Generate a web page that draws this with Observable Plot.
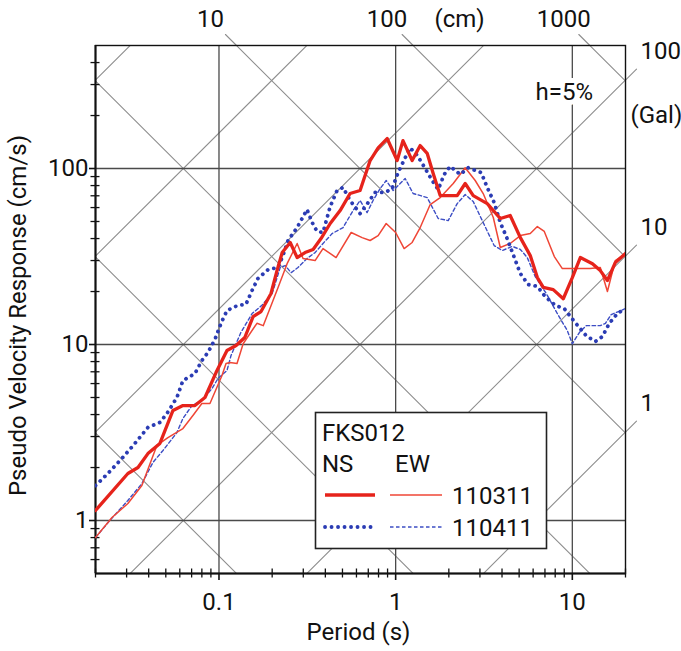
<!DOCTYPE html>
<html><head><meta charset="utf-8">
<script src="https://cdn.jsdelivr.net/npm/d3@7"></script>
<script src="https://cdn.jsdelivr.net/npm/@observablehq/plot@0.6"></script>
<style>body{margin:0;background:#fff}#chart{width:681px;height:651px}</style>
</head><body><div id="chart"></div>
<script>
// ---- data: periods (s) and pseudo velocity response (cm/s) ----
const periodsNS0311 = [0.02,0.0305,0.0348,0.0396,0.0463,0.0549,0.0625,0.0731,0.0833,0.0962,0.111,0.125,0.140,0.156,0.173,0.197,0.213,0.228,0.253,0.277,0.307,0.341,0.378,0.426,0.485,0.552,0.629,0.717,0.796,0.895,1.02,1.10,1.24,1.377,1.508,1.631,1.787,2.23,2.476,2.749,3.30,3.91,4.45,5.08,5.78,6.34,6.85,7.80,8.89,10.0,11.1,13.0,14.4,15.8,17.5,20];
const valuesNS0311 = [1.14,1.85,2.0,2.40,2.74,4.22,4.50,4.50,5.0,6.93,9.24,9.87,10.96,14.4,15.4,19.5,26.3,33.3,38.0,31.2,33.3,34.7,40.0,48.7,57.7,72.1,75.0,111,131,148,111,144,111,135,122,93.7,70.2,70.2,82.2,70.2,63.2,52.0,54.1,40.5,32.0,24.0,21.1,20.5,18.2,24.0,31.2,28.8,26.3,23.1,29.2,32.9];

const periodsEW0311 = [0.02,0.0248,0.0305,0.0366,0.0445,0.0514,0.0625,0.0712,0.080,0.0889,0.104,0.1096,0.1154,0.1265,0.137,0.164,0.178,0.216,0.243,0.277,0.299,0.350,0.388,0.460,0.560,0.646,0.717,0.796,0.884,1.0,1.117,1.24,1.377,1.569,1.787,2.118,2.476,2.82,3.13,3.57,3.91,4.45,5.08,5.78,6.34,6.94,7.91,8.78,10.1,12.6,14.4,15.8,17.5,20];
const valuesEW0311 = [0.80,1.04,1.25,1.58,2.67,2.96,3.33,3.95,4.62,4.62,6.67,7.80,7.90,7.80,10.1,13.2,12.8,21.1,28.8,37.5,30.8,30.0,35.1,31.2,43.3,40.5,39.0,41.6,48.7,43.3,35.1,38.0,46.2,62.4,68.4,82.2,101,85.5,72.1,52.7,35.6,37.5,41.6,42.7,46.8,43.9,31.6,27.0,27.0,27.0,27.4,20.0,30.0,32.9];

const periodsNS0411 = [0.02,0.0235,0.0282,0.0334,0.0396,0.0463,0.0508,0.0578,0.0625,0.0731,0.080,0.0866,0.0949,0.103,0.111,0.128,0.142,0.154,0.166,0.190,0.216,0.230,0.246,0.277,0.315,0.337,0.359,0.388,0.426,0.466,0.504,0.552,0.629,0.699,0.765,0.872,0.955,1.033,1.132,1.208,1.324,1.47,1.61,1.741,1.883,2.036,2.32,2.575,3.05,3.30,3.61,3.91,4.23,4.63,5.08,5.63,6.34,7.03,8.01,9.01,9.87,10.8,12.0,13.5,14.8,16.2,18.0,20];
const valuesNS0411 = [1.58,1.85,2.25,2.74,3.38,3.61,4.06,5.0,6.24,6.84,8.11,9.01,10.7,13.3,15.6,16.7,16.9,20.3,23.7,26.7,27.4,32.0,39.0,46.2,58.5,49.3,43.9,43.3,60.8,75.0,78.0,65.8,55.5,64.1,73.1,73.1,76.9,94.9,115,131,119,100,85.5,76.0,92.5,103,92.5,101,94.9,78.0,64.1,49.3,41.1,32.4,25.3,21.9,21.4,18.7,16.7,16.0,14.2,12.7,11.2,10.4,11.1,13.2,15.0,16.0];

const periodsEW0411 = [0.02,0.0241,0.0305,0.0366,0.0423,0.0482,0.0578,0.0625,0.0703,0.080,0.0913,0.0987,0.111,0.117,0.133,0.154,0.175,0.200,0.222,0.237,0.256,0.280,0.315,0.350,0.388,0.437,0.504,0.574,0.629,0.689,0.745,0.817,0.884,0.968,1.132,1.256,1.508,1.741,1.984,2.23,2.476,2.749,3.13,3.61,4.01,4.57,5.08,5.56,6.17,7.12,8.22,9.37,10.0,10.96,12.0,14.4,15.4,16.6,20];
const valuesEW0411 = [0.80,1.0,1.30,1.62,2.14,2.50,3.16,3.80,4.50,4.81,5.62,6.41,7.12,8.66,11.7,15.0,16.7,19.5,27.4,28.1,25.6,27.4,30.8,33.3,37.5,42.7,46.2,57.7,65.8,56.2,65.8,76.9,85.5,75.0,87.8,72.1,68.4,52.0,50.6,63.2,71.1,64.9,49.3,36.5,34.2,36.1,34.7,31.2,24.3,19.5,15.0,12.0,10.1,11.7,12.8,12.8,13.2,14.8,16.0];

// axes / tripartite grid levels
const xTickLabels = [0.1, 1, 10];
const yTickLabels = [1, 10, 100];
const xMinorTicks = [0.02,0.03,0.04,0.05,0.06,0.07,0.08,0.09,0.2,0.3,0.4,0.5,0.6,0.7,0.8,0.9,2,3,4,5,6,7,8,9,20];
const yMinorTicks = [0.6,0.7,0.8,0.9,2,3,4,5,6,7,8,9,20,30,40,50,60,70,80,90,200,300,400];
const dispLevels = [0.01, 0.1, 1, 10, 100, 1000];          // cm
const accLevels = [1, 10, 100, 1000, 10000, 100000];       // Gal
const dispLabelLevels = [10, 100, 1000];
const accLabelLevels = [1, 10, 100];

// ---- build tables ----
const toRows = (T, V) => T.map((t, i) => ({T: t, SV: V[i]}));
const rNS0311 = toRows(periodsNS0311, valuesNS0311);
const rEW0311 = toRows(periodsEW0311, valuesEW0311);
const rNS0411 = toRows(periodsNS0411, valuesNS0411);
const rEW0411 = toRows(periodsEW0411, valuesEW0411);

const W = 681, H = 651, mL = 95, mR = 56, mT = 45, mB = 78;
const plotW = W - mL - mR, plotH = H - mT - mB;
const TP = 2 * Math.PI;
const xDom = [0.02, 20], yDom = [0.5, 500];
const tSpan = [0.005, 80];
const dispRows = dispLevels.flatMap(D => tSpan.map(T => ({k: D, T, SV: TP * D / T})));
const accRows = accLevels.flatMap(A => tSpan.map(T => ({k: A, T, SV: A * T / TP})));
const pxPerDecY = plotH / 3, pxPerDecX = plotW / 3;
const extY = Math.pow(10, 11 / pxPerDecY);
const extX = Math.pow(10, 11 / pxPerDecX);
const dispExt = dispLabelLevels.flatMap(D => [yDom[1], yDom[1] * extY].map(SV => ({k: D, SV, T: TP * D / SV})));
const accExt = accLabelLevels.flatMap(A => [xDom[1], xDom[1] * extX].map(T => ({k: A, T, SV: A * T / TP})));
const labY = yDom[1] * Math.pow(10, 26 / pxPerDecY);
const dispLab = dispLabelLevels.map(D => ({T: TP * D / labY, SV: labY, text: String(D)}));
const labX = xDom[1] * Math.pow(10, 29 / pxPerDecX);
const accLab = accLabelLevels.map(A => ({T: labX, SV: A * labX / TP, text: String(A)}));

const FONT = "Roboto, 'Liberation Sans', sans-serif";
const FS = 24;
const GRID = "#4a4a4a", DIAG = "#8e8e8e";
const RED = "#e6231b", RED2 = "#ef4636", BLUE = "#2b3cb4", BLUE2 = "#3c4dc4";

const plot = Plot.plot({
  width: W, height: H,
  marginLeft: mL, marginRight: mR, marginTop: mT, marginBottom: mB,
  style: {fontFamily: FONT, fontSize: FS + "px", background: "white", overflow: "visible", color: "#111"},
  x: {type: "log", domain: xDom, axis: null},
  y: {type: "log", domain: yDom, axis: null},
  marks: [
    Plot.line(dispRows, {x: "T", y: "SV", z: "k", stroke: DIAG, strokeWidth: 1.1, clip: true}),
    Plot.line(accRows, {x: "T", y: "SV", z: "k", stroke: DIAG, strokeWidth: 1.1, clip: true}),
    Plot.line(dispExt, {x: "T", y: "SV", z: "k", stroke: DIAG, strokeWidth: 1.1}),
    Plot.line(accExt, {x: "T", y: "SV", z: "k", stroke: DIAG, strokeWidth: 1.1}),
    Plot.ruleX(xTickLabels, {stroke: GRID, strokeWidth: 1.3}),
    Plot.ruleY(yTickLabels, {stroke: GRID, strokeWidth: 1.3}),
    // ticks
    Plot.axisX({ticks: xMinorTicks, tickSize: 4.5, text: null, label: null, stroke: "#111", strokeWidth: 1.3}),
    Plot.tickX(xMinorTicks, {insetTop: plotH - 4.5, stroke: "#111", strokeWidth: 1.3}),
    Plot.axisX({ticks: xTickLabels, tickSize: 7, text: null, label: null, stroke: "#111", strokeWidth: 1.6}),
    Plot.axisY({ticks: yMinorTicks, tickSize: 4.5, text: null, label: null, stroke: "#111", strokeWidth: 1.3}),
    Plot.tickY(yMinorTicks, {insetRight: plotW - 4.5, stroke: "#111", strokeWidth: 1.3}),
    Plot.axisY({ticks: yTickLabels, tickSize: 6, text: null, label: null, stroke: "#111", strokeWidth: 1.6}),
    Plot.frame({stroke: "#111", strokeWidth: 1.4}),
    Plot.ruleX([xDom[0]], {stroke: "#111", strokeWidth: 2}),
    Plot.ruleY([yDom[0]], {stroke: "#111", strokeWidth: 2}),
    // tick labels
    Plot.text(xTickLabels, {x: d => d, frameAnchor: "bottom", dy: 36, text: d => String(d), fill: "#111"}),
    Plot.text(yTickLabels, {y: d => d, frameAnchor: "left", dx: -7, textAnchor: "end", text: d => String(d), fill: "#111"}),
    Plot.text(["Period (s)"], {frameAnchor: "bottom", dy: 66, dx: -2, text: d => d, fill: "#111"}),
    Plot.text(["Pseudo Velocity Response (cm/s)"], {frameAnchor: "left", textAnchor: "middle", dx: -77, dy: 6, rotate: -90, text: d => d, fill: "#111"}),
    // tripartite labels
    Plot.text(dispLab, {x: "T", y: "SV", text: "text", fill: "#111"}),
    Plot.text(["(cm)"], {x: () => 2.3, y: () => labY, text: d => d, fill: "#111"}),
    Plot.text(accLab, {x: "T", y: "SV", text: "text", textAnchor: "start", dx: -14, fill: "#111"}),
    Plot.text(["(Gal)"], {x: () => xDom[1], y: () => 200, text: d => d, textAnchor: "start", dx: 5, fill: "#111"}),
    Plot.text(["h=5%"], {x: () => 9.0, y: () => 270, text: d => d, fill: "#111", stroke: "white", strokeWidth: 10}),
    // spectra
    Plot.line(rEW0411, {x: "T", y: "SV", stroke: BLUE2, strokeWidth: 1.4, strokeDasharray: "3.5,2.5", clip: true}),
    Plot.line(rEW0311, {x: "T", y: "SV", stroke: RED2, strokeWidth: 1.5, clip: true}),
    Plot.line(rNS0411, {x: "T", y: "SV", stroke: BLUE, strokeWidth: 3.8, strokeDasharray: "0.1,6.4", strokeLinecap: "round", clip: true}),
    Plot.line(rNS0311, {x: "T", y: "SV", stroke: RED, strokeWidth: 3.3, clip: true})
  ]
});

// legend box
const svg = d3.select(plot);
const lg = svg.append("g").attr("font-family", FONT).attr("font-size", FS).attr("fill", "#111").attr("text-anchor", "start");
lg.append("rect").attr("x", 315.5).attr("y", 412.5).attr("width", 231).attr("height", 136)
  .attr("fill", "white").attr("stroke", "#222").attr("stroke-width", 1.6);
lg.append("text").attr("x", 322).attr("y", 441).text("FKS012");
lg.append("text").attr("x", 322).attr("y", 472).text("NS");
lg.append("text").attr("x", 395).attr("y", 472).text("EW");
const legRows = [
  {y: 495, label: "110311", a: {stroke: RED, w: 3.3, dash: null, cap: "butt"}, b: {stroke: RED2, w: 1.5, dash: null, cap: "butt"}},
  {y: 527, label: "110411", a: {stroke: BLUE, w: 3.8, dash: "0.1,6.4", cap: "round"}, b: {stroke: BLUE2, w: 1.4, dash: "3.5,2.5", cap: "butt"}}
];
for (const r of legRows) {
  lg.append("line").attr("x1", 325).attr("x2", 375).attr("y1", r.y).attr("y2", r.y)
    .attr("stroke", r.a.stroke).attr("stroke-width", r.a.w).attr("stroke-dasharray", r.a.dash).attr("stroke-linecap", r.a.cap);
  lg.append("line").attr("x1", 390).attr("x2", 442).attr("y1", r.y).attr("y2", r.y)
    .attr("stroke", r.b.stroke).attr("stroke-width", r.b.w).attr("stroke-dasharray", r.b.dash).attr("stroke-linecap", r.b.cap);
  lg.append("text").attr("x", 452).attr("y", r.y + 9).text(r.label);
}
document.getElementById("chart").appendChild(plot);
</script>
</body></html>
